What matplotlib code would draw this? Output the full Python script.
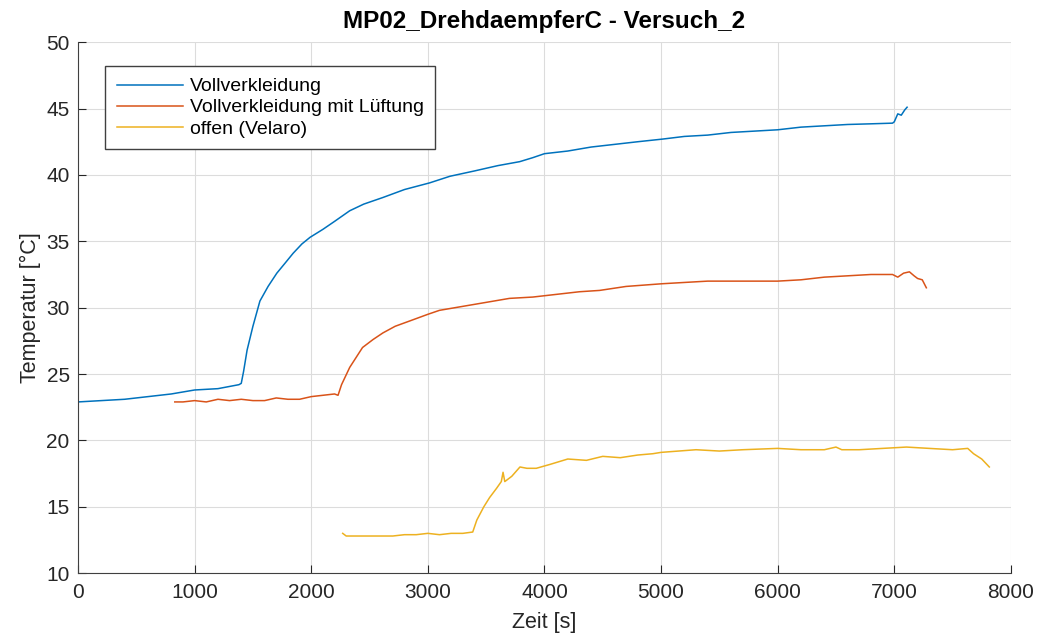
import matplotlib
matplotlib.use("Agg")
import matplotlib.pyplot as plt

plt.rcParams['font.family'] = ['Liberation Sans', 'DejaVu Sans']

# values
t_voll = [0, 200, 400, 600, 800, 1000, 1200, 1380, 1400, 1420, 1450, 1500, 1560, 1630, 1705,
          1780, 1845, 1920, 1990, 2100, 2200, 2330, 2450, 2615, 2800, 3015, 3190, 3400, 3600,
          3788, 3900, 4000, 4200, 4400, 4600, 4800, 5013, 5200, 5400, 5600, 5800, 6000, 6200,
          6400, 6600, 6800, 6985, 7000, 7030, 7060, 7090, 7110]
T_voll = [22.9, 23.0, 23.1, 23.3, 23.5, 23.8, 23.9, 24.2, 24.3, 25.2, 26.8, 28.6, 30.5, 31.6, 32.6,
          33.4, 34.1, 34.8, 35.3, 35.9, 36.5, 37.3, 37.8, 38.3, 38.9, 39.4, 39.9, 40.3, 40.7,
          41.0, 41.3, 41.6, 41.8, 42.1, 42.3, 42.5, 42.7, 42.9, 43.0, 43.2, 43.3, 43.4, 43.6,
          43.7, 43.8, 43.85, 43.9, 44.0, 44.6, 44.5, 44.9, 45.1]

t_luft = [830, 900, 1000, 1100, 1200, 1300, 1400, 1500, 1600, 1700, 1800, 1900, 2000, 2100,
          2200, 2230, 2260, 2330, 2440, 2530, 2615, 2720, 2845, 3000, 3100, 3300, 3500, 3700,
          3900, 4100, 4300, 4473, 4700, 5004, 5200, 5400, 5600, 5800, 6000, 6200, 6400, 6600,
          6800, 6985, 7030, 7080, 7130, 7170, 7200, 7240, 7275]
T_luft = [22.9, 22.9, 23.0, 22.9, 23.1, 23.0, 23.1, 23.0, 23.0, 23.2, 23.1, 23.1, 23.3, 23.4,
          23.5, 23.4, 24.2, 25.5, 27.0, 27.6, 28.1, 28.6, 29.0, 29.5, 29.8, 30.1, 30.4, 30.7,
          30.8, 31.0, 31.2, 31.3, 31.6, 31.8, 31.9, 32.0, 32.0, 32.0, 32.0, 32.1, 32.3, 32.4,
          32.5, 32.5, 32.3, 32.6, 32.7, 32.4, 32.2, 32.1, 31.5]

t_offen = [2270, 2300, 2400, 2550, 2700, 2800, 2900, 3000, 3100, 3200, 3300, 3385, 3420, 3480,
           3530, 3590, 3630, 3645, 3660, 3720, 3790, 3850, 3930, 4050, 4200, 4360, 4500, 4650,
           4800, 4930, 5000, 5150, 5300, 5500, 5700, 6000, 6200, 6400, 6500, 6550, 6700, 6900,
           7105, 7300, 7500, 7630, 7680, 7750, 7815]
T_offen = [13.0, 12.8, 12.8, 12.8, 12.8, 12.9, 12.9, 13.0, 12.9, 13.0, 13.0, 13.1, 14.0, 15.0,
           15.7, 16.4, 16.9, 17.6, 16.9, 17.3, 18.0, 17.9, 17.9, 18.2, 18.6, 18.5, 18.8, 18.7,
           18.9, 19.0, 19.1, 19.2, 19.3, 19.2, 19.3, 19.4, 19.3, 19.3, 19.5, 19.3, 19.3, 19.4,
           19.5, 19.4, 19.3, 19.4, 19.0, 18.6, 18.0]

labels = ["Vollverkleidung", "Vollverkleidung mit Lüftung", "offen (Velaro)"]
colors = ["#0072BD", "#D95319", "#EDB120"]

fig = plt.figure(figsize=(10.4, 6.39), dpi=100)
ax = fig.add_axes([0.075, 0.103, 0.897, 0.831])

ax.plot(t_voll, T_voll, color=colors[0], linewidth=1.1, label=labels[0])
ax.plot(t_luft, T_luft, color=colors[1], linewidth=1.1, label=labels[1])
ax.plot(t_offen, T_offen, color=colors[2], linewidth=1.1, label=labels[2])

ax.set_xlim(0, 8000)
ax.set_ylim(10, 50)
ax.set_xticks(range(0, 8001, 1000))
ax.set_yticks(range(10, 51, 5))
ax.grid(True, color="#dcdcdc", linewidth=0.8)
ax.set_axisbelow(True)
for s in ["top", "right"]:
    ax.spines[s].set_visible(False)
for s in ["left", "bottom"]:
    ax.spines[s].set_color("#404040")
ax.tick_params(direction="in", length=6, colors="#262626", labelsize=15)
ax.tick_params(axis="x", pad=7)
ax.tick_params(axis="y", pad=6)

ax.set_title("MP02_DrehdaempferC - Versuch_2", fontsize=17.5, fontweight="bold", pad=10)
ax.set_xlabel("Zeit [s]", fontsize=15.5, labelpad=7, color="#262626")
ax.set_ylabel("Temperatur [°C]", fontsize=15.5, labelpad=4, color="#262626")

leg = ax.legend(loc="upper left", bbox_to_anchor=(0.029, 0.955), fontsize=14,
                fancybox=False, framealpha=1, edgecolor="#404040", borderaxespad=0,
                handlelength=3.4, handletextpad=0.35, labelspacing=0.18, borderpad=0.6)
leg.get_frame().set_linewidth(1.0)

fig.savefig("out.png", dpi=100)
